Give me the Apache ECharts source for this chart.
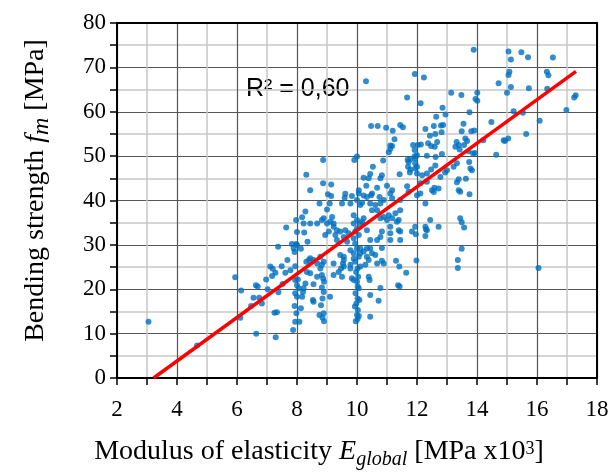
<!DOCTYPE html>
<html>
<head>
<meta charset="utf-8">
<script src="https://cdn.jsdelivr.net/npm/echarts@6/dist/echarts.min.js"></script>
<style>
html,body{margin:0;padding:0;background:#fff;}
#c{width:612px;height:473px;}
</style>
</head>
<body>
<div id="c"></div>
<script>
// ---- data: [E_global (MPa x10^3), f_m (MPa)] ----
const ptsLowE = [
[3.05,12.7],[4.67,7.3],[5.94,22.7],[6.14,19.7],[6.11,13.6],[6.64,10.0],[7.29,9.2],
[6.63,20.9],[6.69,20.6],[6.55,18.1],[6.74,18.1],[6.83,16.8],[6.47,16.2],[6.97,22.2],[7.02,20.0],
[7.11,25.1],[7.19,24.6],[7.28,23.7],[7.17,23.0],[7.37,29.6],[7.49,25.2],[7.61,23.7],[7.64,33.9],[7.68,26.6],
[7.25,14.7],[7.33,14.8],[7.38,19.3],[7.52,21.2],[7.78,24.3],[7.94,25.2],[7.97,30.2],[7.83,30.2],[7.92,28.4],[7.89,29.2],
[7.97,35.6],[8.17,36.2],[8.22,34.8],[8.0,32.9],[8.24,32.8],[8.35,30.7],[8.13,29.1],[8.0,30.0],[8.28,37.5],
[7.94,22.1],[8.03,22.2],[8.0,20.9],[8.06,20.2],[7.94,19.1],[8.0,18.3],[8.17,18.3],[8.22,20.2],[8.28,21.3],[8.2,19.4],
[7.92,16.2],[8.13,15.7],[7.98,14.6],[7.94,12.7],[8.08,12.7],[7.87,10.8],[8.31,26.2],[8.4,26.6],[8.33,23.9],
[8.31,45.8],[8.44,42.3]
];
const ptsMidLow = [
[8.87,22.4],[8.9,21.7],[8.83,20.4],[8.89,19.4],[8.85,17.9],[9.1,18.3],[8.8,16.4],[8.89,14.6],[8.75,14.2],[8.9,12.8],[8.85,13.6],
[8.55,17.2],[8.53,17.6],[8.55,21.1],[8.83,23.2],
[9.22,23.2],[9.39,23.9],[9.47,24.7],[9.53,25.8],[9.56,26.6],[9.56,27.3],[9.78,24.7],[9.83,22.5],[9.89,22.1],
[10.39,22.8],[10.42,22.1],[10.44,18.7],[10.44,13.8],
[10.33,27.3],[10.5,28.1],[10.44,29.2],
[8.44,27.0],[8.55,26.6],[8.67,25.8],[8.78,27.3],[8.83,25.5],[8.89,26.2],
[9.22,25.8],[9.44,27.7],[9.78,28.8],[9.89,28.1],
[8.78,24.7],[8.67,22.8],[8.44,23.6],[9.5,22.8],[9.56,25.1],[9.78,25.5],[9.89,26.9],[9.94,26.2],[10.06,27.3],[10.11,28.1],
[10.22,28.5],[10.33,29.2],[10.39,26.6],[10.28,25.5],[10.11,25.1],[10.0,29.2],[10.11,29.2],
[10.02,24.7],[9.97,23.9],[10.04,22.8],[10.0,21.7],[10.02,20.6],[10.06,20.2],[9.95,19.1],[10.02,17.9],[10.08,17.6],
[9.98,16.8],[9.93,16.1],[10.03,15.3],[10.0,14.2],[10.06,14.0],[10.02,13.3],[9.96,12.8]
];
const ptsMidHigh = [
[8.87,49.1],[9.91,49.1],[10.0,49.9],
[8.87,43.9],[9.14,43.6],[9.03,41.4],[9.14,41.0],[9.61,41.5],[9.59,40.6],[9.83,41.0],[10.06,41.6],[10.22,41.1],[10.47,41.2],
[10.22,45.1],[10.39,45.0],[10.44,46.0],[10.53,47.6],[10.31,43.3],[10.06,42.3],[10.5,41.6],[10.33,40.8],
[8.75,39.3],[9.09,39.3],[9.0,38.0],[9.5,39.3],[9.78,39.3],[10.0,40.1],[10.11,39.0],[10.17,39.5],[10.44,39.3],
[8.83,35.6],[8.89,36.0],[9.17,36.3],[9.0,34.8],[9.22,34.8],[9.33,33.3],[9.06,33.0],[8.94,32.2],[9.28,32.2],[9.33,31.1],[9.44,33.0],
[9.89,36.7],[10.0,35.6],[10.11,34.8],[10.22,36.0],[10.17,35.2],[9.94,33.0],[10.06,32.2],[10.33,33.3],[10.5,37.8],[10.44,31.1],[9.67,30.7],
[8.44,34.8],[8.67,34.8],[9.11,35.2],[9.22,34.1],[9.61,33.3],[9.72,32.6],[9.56,31.8],[9.89,34.8],[10.0,33.7],[9.89,31.5],[9.94,30.3]
];
const ptsUpperMid = [
[10.83,29.3],[10.61,27.7],[10.83,26.4],[10.89,25.8],[10.67,25.8],[11.3,26.4],[11.41,25.1],[11.64,23.7],[11.98,26.5],
[11.37,20.9],[11.42,20.6],[10.78,20.3],[10.72,17.4],
[13.36,26.6],[13.36,24.8],[13.49,29.1],
[12.28,39.3],[10.78,39.3],[11.44,37.8],[11.28,37.1],[11.06,36.7],[10.89,36.3],[10.78,36.0],[11.0,35.6],[11.39,35.6],[11.33,35.2],
[12.44,35.6],[12.72,34.1],[12.28,34.1],[12.33,33.3],[11.94,34.1],[11.83,33.0],[11.44,33.0],[11.11,32.6],[10.83,33.0],[10.78,31.8],[10.67,31.1],
[11.11,31.1],[11.11,34.1],[11.39,33.3],[11.44,31.1],[11.17,36.0],[10.67,37.8],[10.61,39.0],[12.3,33.5],[12.28,32.0],[11.96,32.4],
[13.44,36.0],[13.49,35.1],[13.57,33.9],[16.05,24.8]
];
const ptsUpper = [
[10.78,45.0],[10.67,42.9],[11.0,43.3],[11.17,42.3],[10.75,40.8],[10.87,49.0],[11.42,45.9],[11.7,47.6],[11.78,47.0],[11.76,46.3],
[12.0,47.6],[12.0,46.1],[12.17,45.7],[12.33,46.1],[12.47,47.0],[12.61,47.9],[12.78,45.3],[12.94,46.3],[12.58,42.9],[12.5,42.3],
[12.56,41.9],[12.33,44.2],[12.11,43.9],[13.39,44.8],[13.33,44.1],[13.63,44.9],[13.78,47.2],[13.74,48.7],[13.83,46.8],[13.39,42.3],
[13.44,42.0],[13.75,41.4],[11.67,43.2],
[10.83,45.7],[11.11,41.6],[10.89,40.1],[11.72,48.7],[11.94,48.4],[11.94,47.2],[11.72,42.0],[12.72,42.7],[13.0,46.8],[13.22,47.6],[13.33,48.4],
[11.17,40.5],[11.44,40.1],[12.11,41.6],[12.0,41.2]
];
const ptsHigh = [
[15.05,73.6],[15.13,71.8],[15.48,73.4],[15.7,72.3],[16.53,72.2],[15.08,69.0],[15.05,68.3],[16.33,69.0],[16.38,68.2],[14.72,66.4],
[15.13,65.6],[15.0,64.3],[15.73,65.3],[16.34,65.2],[17.29,63.7],[17.24,63.2],[16.98,60.4],[15.22,60.1],[15.53,59.8],[16.09,58.0],
[14.48,57.7],[15.64,55.0],[14.89,53.6],[15.04,54.0],[14.93,53.4],[14.64,50.3],
[13.89,74.0],[11.93,68.5],[12.23,67.7],[10.3,66.9],[13.14,64.3],[13.48,63.8],[14.01,64.3],[11.67,63.2],[13.95,62.9],[14.01,62.5],
[12.12,61.9],[12.85,60.9],[13.75,59.9],[12.95,59.4],[12.64,58.9],[12.56,56.8],[12.8,56.9],[12.87,57.0],[10.47,56.8],[10.69,56.8],
[10.97,56.4],[11.19,55.7],[11.44,57.0],[11.53,56.5],[12.28,56.1],[13.55,57.3],[13.49,55.6],[13.81,55.6],[13.91,55.8],[12.43,54.6],
[12.61,55.0],[12.82,55.4],[11.25,53.8],[14.21,53.6],[13.61,54.0],[13.67,53.4],[11.11,52.4],[11.06,50.9],[11.87,52.5],[12.03,52.5],
[12.13,52.6],[12.37,52.9],[12.47,52.3],[12.59,52.1],[12.67,53.2],[13.32,53.2],[13.39,52.5],[13.28,52.1],[13.57,52.5],[13.42,51.5],
[13.72,51.1],[13.87,50.6],[13.93,50.7],[12.83,50.5],[12.33,50.1],[12.62,49.8],[11.92,51.4],[11.92,50.0],[12.0,50.2],[11.69,49.2],
[11.78,49.3],[11.94,49.5],[11.11,51.6],[11.17,52.3]
];
// trend line end points
const trendE  = [3.22, 17.3];
const trendFm = [0, 69.1];
const r2Text = 'R² = 0,60';
const xTicks = [2, 18, 2];   // min, max, step
const yTicks = [0, 80, 10];

const allPts = [].concat(ptsLowE, ptsMidLow, ptsMidHigh, ptsUpperMid, ptsUpper, ptsHigh);
const trendData = trendE.map((e, i) => [e, trendFm[i]]);

const serif = 'Liberation Serif, Times New Roman, serif';
const nameRich = {
  n:   {fontFamily: serif, fontSize: 28, color: '#000', lineHeight: 36},
  it:  {fontFamily: serif, fontSize: 28, color: '#000', fontStyle: 'italic', lineHeight: 36},
  sub: {fontFamily: serif, fontSize: 20, color: '#000', fontStyle: 'italic', lineHeight: 20, padding: [17, 0, 0, 0], verticalAlign: 'bottom'},
  sup: {fontFamily: serif, fontSize: 18, color: '#000', lineHeight: 18, padding: [6, 0, 0, 0], verticalAlign: 'top'},
  subm:{fontFamily: serif, fontSize: 24, color: '#000', fontStyle: 'italic', lineHeight: 24, padding: [10, 0, 0, 0], verticalAlign: 'bottom'}
};

const chart = echarts.init(document.getElementById('c'), null, {renderer: 'canvas'});
chart.setOption({
  animation: false,
  backgroundColor: '#ffffff',
  grid: {left: 117, right: 15, top: 23, bottom: 95, containLabel: false, outerBoundsMode: 'none'},
  xAxis: [{
    type: 'value', min: xTicks[0], max: xTicks[1], interval: xTicks[2],
    axisLine: {show: true, onZero: false, lineStyle: {color: '#000', width: 2}},
    axisTick: {show: true, length: 7, lineStyle: {color: '#000', width: 1.5}},
    minorTick: {show: true, splitNumber: 2, length: 7, lineStyle: {color: '#000', width: 1.5}},
    axisLabel: {fontFamily: serif, fontSize: 23, color: '#000', margin: 20},
    splitLine: {show: true, lineStyle: {color: '#555555', width: 1.2}},
    minorSplitLine: {show: true, lineStyle: {color: '#c8c8c8', width: 1.5}},
    name: '{n|Modulus of elasticity }{it|E}{sub|global}{n| [MPa x10}{sup|3}{n|]}',
    nameLocation: 'middle', nameGap: 56,
    nameTextStyle: {rich: nameRich, padding: [0, 76, 0, 0]}
  }, {
    type: 'value', position: 'top', min: xTicks[0], max: xTicks[1], interval: xTicks[2],
    axisLine: {show: true, onZero: false, lineStyle: {color: '#000', width: 2}},
    axisTick: {show: false}, axisLabel: {show: false}, splitLine: {show: false}
  }],
  yAxis: [{
    type: 'value', min: yTicks[0], max: yTicks[1], interval: yTicks[2],
    axisLine: {show: true, onZero: false, lineStyle: {color: '#000', width: 2}},
    axisTick: {show: true, length: 7, lineStyle: {color: '#000', width: 1.5}},
    minorTick: {show: true, splitNumber: 2, length: 7, lineStyle: {color: '#000', width: 1.5}},
    axisLabel: {fontFamily: serif, fontSize: 23, color: '#000', margin: 11},
    splitLine: {show: true, lineStyle: {color: '#555555', width: 1.2}},
    minorSplitLine: {show: true, lineStyle: {color: '#c8c8c8', width: 1.5}},
    name: '{n|Bending strength }{it|f}{subm|m}{n| [MPa]}',
    nameLocation: 'middle', nameGap: 63, nameRotate: 90,
    nameTextStyle: {rich: nameRich, padding: [0, 0, 0, 20]}
  }, {
    type: 'value', position: 'right', min: yTicks[0], max: yTicks[1], interval: yTicks[2],
    axisLine: {show: true, onZero: false, lineStyle: {color: '#000', width: 2}},
    axisTick: {show: false}, axisLabel: {show: false}, splitLine: {show: false}
  }],
  series: [{
    type: 'scatter', data: allPts, symbol: 'circle', symbolSize: 6,
    itemStyle: {color: '#0070C0'}, z: 3, silent: true
  }, {
    type: 'line', data: trendData, showSymbol: false, symbol: 'none',
    lineStyle: {color: '#FF0000', width: 3.5}, z: 4, silent: true
  }],
  graphic: [{
    type: 'text', left: 246, top: 77,
    style: {text: r2Text, fontFamily: 'Liberation Sans, Arial, sans-serif', fontSize: 25, fill: '#000'}
  }]
});
</script>
</body>
</html>
